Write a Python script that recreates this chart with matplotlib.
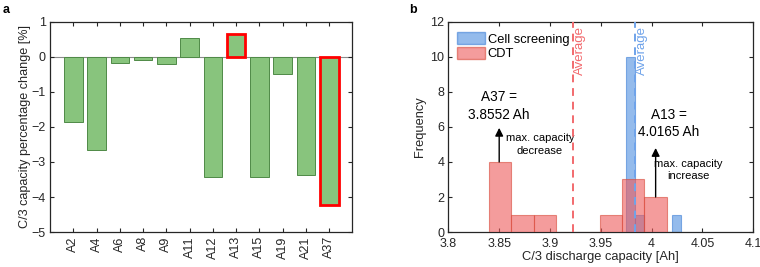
import matplotlib.pyplot as plt
from matplotlib.patches import Patch

# panel a: C/3 capacity change per cell
cells = ['A2', 'A4', 'A6', 'A8', 'A9', 'A11', 'A12', 'A13', 'A15', 'A19', 'A21', 'A37']
change = [-1.86, -2.66, -0.16, -0.10, -0.21, 0.55, -3.44, 0.65, -3.44, -0.50, -3.38, -4.24]
highlight = ['A13', 'A37']

# panel b: histograms of C/3 discharge capacity
screen_edges = [3.9747, 3.9837, 3.9927, 4.0017, 4.0107, 4.0197, 4.0287]
screen_counts = [10, 1, 0, 0, 0, 1]
cdt_edges = [3.8403, 3.8621, 3.8839, 3.9057, 3.9275, 3.9493, 3.9711, 3.9929, 4.0147]
cdt_counts = [4, 1, 1, 0, 0, 1, 3, 2]
screen_avg = 3.9835
cdt_avg = 3.9222

plt.rcParams['font.family'] = 'Liberation Sans'
axc = '#262626'

fig = plt.figure(figsize=(7.6, 2.67), dpi=100)
ax1 = fig.add_axes([0.0658, 0.131, 0.398, 0.787])
ax2 = fig.add_axes([0.590, 0.131, 0.401, 0.787])

# ---- panel a
x = list(range(1, len(cells) + 1))
bars = ax1.bar(x, change, width=0.8, color='#88C47D', edgecolor='#4F8A47', linewidth=0.7, zorder=2)
for b, c in zip(bars, cells):
    if c in highlight:
        b.set_edgecolor('#FF0000')
        b.set_linewidth(2)
        b.set_zorder(3)
ax1.axhline(0, color='#8a8a8a', lw=0.8, zorder=1)
ax1.set_xlim(0, 13)
ax1.set_ylim(-5, 1)
ax1.set_xticks(x)
ax1.set_xticklabels(cells, rotation=90)
ax1.set_yticks(range(-5, 2))
ax1.set_ylabel('C/3 capacity percentage change [%]', fontsize=9.1, color=axc, labelpad=0.5)

# ---- panel b
ax2.bar(screen_edges[:-1], screen_counts, width=[b - a for a, b in zip(screen_edges[:-1], screen_edges[1:])],
        align='edge', color='#4D8FE0', alpha=0.6, edgecolor='#3D7FD6', linewidth=0.8, zorder=2)
ax2.bar(cdt_edges[:-1], cdt_counts, width=[b - a for a, b in zip(cdt_edges[:-1], cdt_edges[1:])],
        align='edge', color='#EE5A5A', alpha=0.6, edgecolor='#D84A3A', linewidth=0.8, zorder=3)
ax2.axvline(cdt_avg, color='#F26A6E', ls=(0, (4, 3)), lw=1.4, zorder=4)
ax2.axvline(screen_avg, color='#6FA3EA', ls=(0, (4, 3)), lw=1.4, zorder=4)
ax2.text(cdt_avg + 0.0012, 10.35, 'Average', rotation=90, color='#F26A6E', fontsize=9.5,
         ha='left', va='center')
ax2.text(screen_avg + 0.0012, 10.35, 'Average', rotation=90, color='#6FA3EA', fontsize=9.5,
         ha='left', va='center')

arrow = dict(arrowstyle='-|>', color='black', lw=1, mutation_scale=12, shrinkA=0, shrinkB=0)
ax2.annotate('', xy=(3.85, 5.95), xytext=(3.85, 4), arrowprops=arrow, zorder=5)
ax2.annotate('', xy=(4.004, 4.8), xytext=(4.004, 2), arrowprops=arrow, zorder=5)
ax2.text(3.85, 7.2, 'A37 =\n3.8552 Ah', ha='center', va='center', fontsize=9.8, linespacing=1.3)
ax2.text(4.0168, 6.2, 'A13 =\n4.0165 Ah', ha='center', va='center', fontsize=9.8, linespacing=1.3)
ax2.text(3.890, 5.0, 'max. capacity\ndecrease', ha='center', va='center', fontsize=8, linespacing=1.3)
ax2.text(4.036, 3.55, 'max. capacity\nincrease', ha='center', va='center', fontsize=8, linespacing=1.3)

ax2.set_xlim(3.8, 4.1)
ax2.set_ylim(0, 12)
ax2.set_xticks([3.8, 3.85, 3.9, 3.95, 4.0, 4.05, 4.1])
ax2.set_xticklabels(['3.8', '3.85', '3.9', '3.95', '4', '4.05', '4.1'])
ax2.set_yticks(range(0, 13, 2))
ax2.set_xlabel('C/3 discharge capacity [Ah]', fontsize=9.3, color=axc, labelpad=1)
ax2.set_ylabel('Frequency', fontsize=9.3, color=axc, labelpad=3)
handles = [Patch(facecolor='#4D8FE0', alpha=0.6, edgecolor='#3D7FD6'),
           Patch(facecolor='#EE5A5A', alpha=0.6, edgecolor='#D84A3A')]
ax2.legend(handles, ['Cell screening', 'CDT'], loc='upper left', frameon=False, fontsize=9.3,
           handlelength=2.1, handleheight=1.1, handletextpad=0.25, labelspacing=0.1,
           borderaxespad=0.3, bbox_to_anchor=(0.0, 0.995))

for ax in (ax1, ax2):
    for s in ax.spines.values():
        s.set_color(axc)
        s.set_linewidth(0.9)
    ax.tick_params(direction='in', top=True, right=True, length=3, width=0.8, colors=axc,
                   labelsize=9, pad=3)
ax2.tick_params(axis='x', pad=4)

fig.text(0.004, 0.985, 'a', fontweight='bold', fontsize=9, va='top')
fig.text(0.538, 0.985, 'b', fontweight='bold', fontsize=9, va='top')

fig.savefig('out.png', dpi=100)
